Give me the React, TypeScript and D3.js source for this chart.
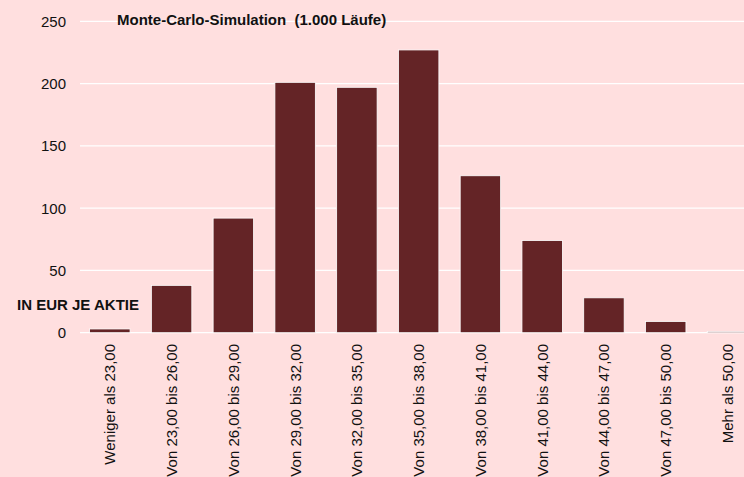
import React from "react";
import * as d3 from "d3";

const categories = [
  "Weniger als 23,00",
  "Von 23,00 bis 26,00",
  "Von 26,00 bis 29,00",
  "Von 29,00 bis 32,00",
  "Von 32,00 bis 35,00",
  "Von 35,00 bis 38,00",
  "Von 38,00 bis 41,00",
  "Von 41,00 bis 44,00",
  "Von 44,00 bis 47,00",
  "Von 47,00 bis 50,00",
  "Mehr als 50,00",
];
const counts = [3, 38, 92, 201, 197, 227, 126, 74, 28, 9, 1];
const yTicks = [0, 50, 100, 150, 200, 250];
const title = "Monte-Carlo-Simulation  (1.000 Läufe)";
const unitLabel = "IN EUR JE AKTIE";

const W = 744;
const H = 477;
const FONT = "'Liberation Sans', Arial, sans-serif";

export default function App() {
  const x = d3.scaleBand<string>().domain(categories).range([79.1, 758.2]).paddingInner(0.345).paddingOuter(0.17);
  const y = d3.scaleLinear().domain([0, 250]).range([332.7, 21.3]);

  return (
    <svg
      width={W}
      height={H}
      style={{ position: "absolute", left: 0, top: 0, display: "block" }}
      fontFamily={FONT}
    >
      <rect x={0} y={0} width={W} height={H} fill="#FFDFDF" />
      {yTicks.map((t) => (
        <g key={t}>
          <line x1={80} x2={W} y1={y(t)} y2={y(t)} stroke="#FFFFFF" strokeWidth={1.2} />
          <text x={66} y={y(t)} dy="0.36em" textAnchor="end" fontSize={15} fill="#111">
            {t}
          </text>
        </g>
      ))}
      {categories.map((c, i) => (
        <rect
          key={c}
          x={x(c)}
          y={y(counts[i])}
          width={x.bandwidth()}
          height={y(0) - y(counts[i])}
          fill="#642426"
          stroke="#FFFFFF"
          strokeWidth={0.8}
        />
      ))}
      {categories.map((c) => {
        const cx = (x(c) as number) + x.bandwidth() / 2;
        return (
          <text
            key={c}
            transform={`translate(${cx},344) rotate(-90)`}
            textAnchor="end"
            dy="0.36em"
            fontSize={15}
            fill="#111"
          >
            {c}
          </text>
        );
      })}
      <text x={117} y={25} fontSize={15} fontWeight="bold" fill="#111" style={{ whiteSpace: "pre" }}>
        {title}
      </text>
      <text x={17} y={310} fontSize={15} fontWeight="bold" fill="#111">
        {unitLabel}
      </text>
    </svg>
  );
}
